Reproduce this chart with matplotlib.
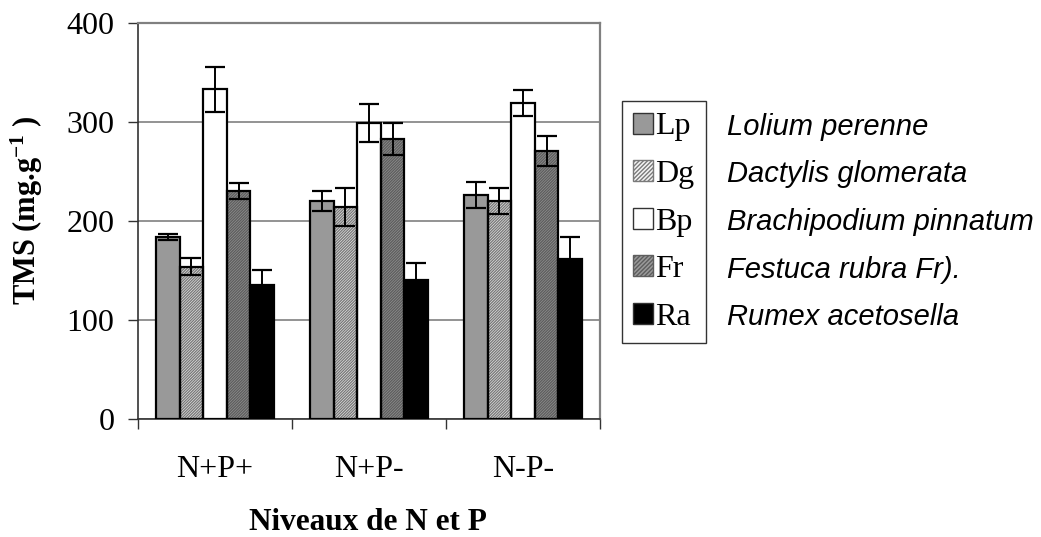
import matplotlib
matplotlib.use("Agg")
import matplotlib.pyplot as plt
import numpy as np
from matplotlib.patches import Patch

plt.rcParams["font.family"] = "Liberation Serif"
plt.rcParams["mathtext.fontset"] = "custom"
plt.rcParams["mathtext.rm"] = "Liberation Serif:bold"
plt.rcParams["mathtext.bf"] = "Liberation Serif:bold"
plt.rcParams["mathtext.default"] = "bf"
plt.rcParams["hatch.linewidth"] = 1.0

categories = ["N+P+", "N+P-", "N-P-"]
codes = ["Lp", "Dg", "Bp", "Fr", "Ra"]
species = ["Lolium perenne", "Dactylis glomerata", "Brachipodium pinnatum",
           "Festuca rubra Fr).", "Rumex acetosella"]

# mean TMS per species, one value per category
lp = [184, 220, 226]
dg = [154, 214, 220]
bp = [333, 299, 319]
fr = [230, 283, 271]
ra = [135, 140, 162]

lp_err = [3, 10, 13]
dg_err = [9, 19, 13]
bp_err = [23, 19, 13]
fr_err = [8, 16, 15]
ra_err = [16, 18, 22]

values = [lp, dg, bp, fr, ra]
errors = [lp_err, dg_err, bp_err, fr_err, ra_err]

faces = ["#999999", "#f4f4f4", "#ffffff", "#9a9a9a", "#000000"]
hatches = [None, "////////////", None, "////////////", None]
hatch_cols = [None, "#7a7a7a", None, "#5e5e5e", None]

fig = plt.figure(figsize=(10.41, 5.37), dpi=100)
ax = fig.add_axes([0.1326, 0.2197, 0.4438, 0.7375])

x = np.arange(len(categories))
width = 0.153
for i, (vals, errs) in enumerate(zip(values, errors)):
    pos = x + (i - 2) * width
    if hatches[i]:
        ax.bar(pos, vals, width, color=faces[i], edgecolor=hatch_cols[i],
               hatch=hatches[i], linewidth=0, zorder=2)
    else:
        ax.bar(pos, vals, width, color=faces[i], linewidth=0, zorder=2)
    ax.bar(pos, vals, width, fill=False, edgecolor="black", linewidth=1.6, zorder=3)
    ax.errorbar(pos, vals, yerr=errs, fmt="none", ecolor="black",
                elinewidth=1.4, capsize=7, capthick=1.6, zorder=4)

ax.set_xlim(-0.5, 2.5)
ax.set_ylim(0, 400)
ax.set_yticks([0, 100, 200, 300, 400])
ax.yaxis.grid(True, color="#808080", linewidth=1.2, zorder=0)
ax.set_axisbelow(True)

ax.set_xticks([-0.5, 0.5, 1.5, 2.5])
ax.set_xticklabels([])
ax.set_xticks(x, minor=True)
ax.set_xticklabels(categories, minor=True)
ax.tick_params(axis="x", which="major", length=7, width=1, color="#333333")
ax.tick_params(axis="x", which="minor", length=0, pad=26, labelsize=23)
ax.tick_params(axis="y", length=7, width=1, color="#333333", pad=10, labelsize=23)

for s in ["left", "bottom"]:
    ax.spines[s].set_color("#333333")
    ax.spines[s].set_linewidth(1.2)
for s in ["top", "right"]:
    ax.spines[s].set_color("#808080")
    ax.spines[s].set_linewidth(1.6)

fig.text(0.026, 0.609, "TMS (mg.g$^{-1}$ )", fontsize=22, fontweight="bold",
         rotation=90, ha="center", va="center")
fig.text(0.353, 0.013, "Niveaux de N et P", fontsize=22.5, fontweight="bold",
         ha="center", va="baseline")

handles = []
for i in range(5):
    if hatches[i]:
        handles.append(Patch(facecolor=faces[i], edgecolor=hatch_cols[i], hatch="////////"))
    else:
        handles.append(Patch(facecolor=faces[i], edgecolor="#333333"))
leg = fig.legend(handles, codes, loc="upper left", bbox_to_anchor=(0.5975, 0.812),
                 fontsize=23, frameon=True, fancybox=False, edgecolor="black",
                 handlelength=0.62, handleheight=0.62, handletextpad=0.06,
                 labelspacing=0.58, borderpad=0.36, borderaxespad=0)
leg.get_frame().set_linewidth(1.0)

fig.canvas.draw()
inv = fig.transFigure.inverted()
for t, name in zip(leg.get_texts(), species):
    bb = t.get_window_extent()
    yc = inv.transform(((bb.x0 + bb.x1) / 2, (bb.y0 + bb.y1) / 2))[1]
    fig.text(0.698, yc, name, family="Liberation Sans", style="italic",
             fontsize=21, ha="left", va="center")

fig.savefig("out.png", dpi=100)
